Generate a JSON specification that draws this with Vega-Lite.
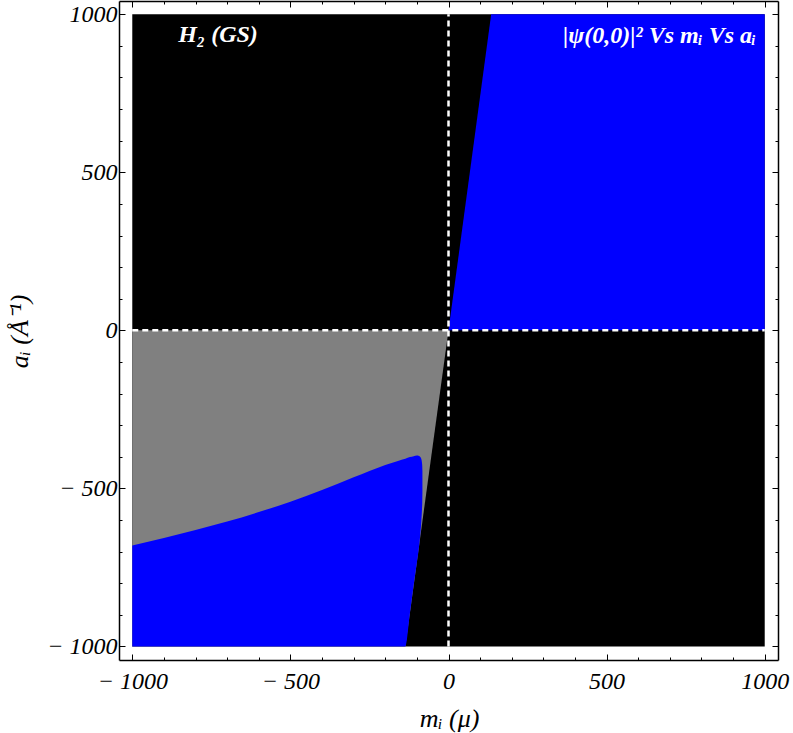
{
  "$schema": "https://vega.github.io/schema/vega-lite/v6.json",
  "autosize": "none",
  "width": 659,
  "height": 659,
  "padding": {"left": 119, "top": 1, "right": 15, "bottom": 73},
  "background": "white",
  "config": {
    "view": {"stroke": null},
    "axis": {
      "domainColor": "black",
      "domainWidth": 1.5,
      "tickColor": "black",
      "tickWidth": 1,
      "grid": false,
      "labelFont": "Liberation Serif",
      "labelFontStyle": "italic",
      "labelFontSize": 24,
      "labelColor": "black",
      "labelOverlap": false,
      "labelFlush": false,
      "labelBound": false,
      "titleFont": "Liberation Serif",
      "titleFontStyle": "italic",
      "titleFontWeight": "normal",
      "titleFontSize": 26,
      "titleColor": "black"
    }
  },
  "datasets": {
    "bg": [{"m": -1000, "m2": 1000, "a": -1000, "a2": 1000}],
    "gray": [
      {"m": -1000, "top": 0, "bot": -1000},
      {"m": -136.6, "top": 0, "bot": -1000},
      {"m": 0, "top": 0, "bot": 0}
    ],
    "blueLow": [
      {"m": -1000, "top": -681, "bot": -1000},
      {"m": -900, "top": -657, "bot": -1000},
      {"m": -800, "top": -632, "bot": -1000},
      {"m": -700, "top": -605, "bot": -1000},
      {"m": -600, "top": -575, "bot": -1000},
      {"m": -500, "top": -542, "bot": -1000},
      {"m": -400, "top": -505, "bot": -1000},
      {"m": -300, "top": -465, "bot": -1000},
      {"m": -250, "top": -445, "bot": -1000},
      {"m": -200, "top": -426, "bot": -1000},
      {"m": -160, "top": -413, "bot": -1000},
      {"m": -136.6, "top": -406, "bot": -1000},
      {"m": -122, "top": -401, "bot": -895},
      {"m": -110, "top": -398, "bot": -805},
      {"m": -100, "top": -396, "bot": -735},
      {"m": -95, "top": -396.5, "bot": -700},
      {"m": -90, "top": -400, "bot": -655},
      {"m": -86, "top": -407, "bot": -605},
      {"m": -84, "top": -418, "bot": -570},
      {"m": -83, "top": -430, "bot": -545},
      {"m": -82.5, "top": -445, "bot": -510}
    ],
    "blueTop": [
      {"m": 0, "top": 0, "bot": 0},
      {"m": 135, "top": 1000, "bot": 0},
      {"m": 1000, "top": 1000, "bot": 0}
    ],
    "vline": [{"m": 0, "a": -1000, "a2": 1000}],
    "hline": [{"a": 0, "m": -1000, "m2": 1000}],
    "labelLeft": [{"m": -729, "a": 911, "label": "H₂ (GS)"}],
    "labelRight": [{"m": 973, "a": 908, "label": "|ψ(0,0)|² Vs mᵢ Vs aᵢ"}]
  },
  "resolve": {"axis": {"x": "independent", "y": "independent"}},
  "layer": [
    {
      "data": {"name": "bg"},
      "mark": {"type": "rect", "color": "#000000"},
      "encoding": {
        "x": {"field": "m", "type": "quantitative",
          "scale": {"domain": [-1042, 1042], "nice": false, "zero": false},
          "axis": {
            "orient": "bottom",
            "values": [-1000,-900,-800,-700,-600,-500,-400,-300,-200,-100,0,100,200,300,400,500,600,700,800,900,1000],
            "tickSize": {"condition": {"test": "datum.value % 500 === 0", "value": -6}, "value": -3},
            "labelPadding": 15,
            "labelExpr": "datum.value % 500 === 0 ? (datum.value < 0 ? '− ' + abs(datum.value) : '' + datum.value) : ''",
            "title": "mᵢ (μ)",
            "titleX": 330,
            "titleY": 66,
            "titleAlign": "center",
            "titleBaseline": "alphabetic"
          }
        },
        "x2": {"field": "m2"},
        "y": {"field": "a", "type": "quantitative",
          "scale": {"domain": [-1043, 1042], "nice": false, "zero": false},
          "axis": {
            "orient": "left",
            "values": [-1000,-900,-800,-700,-600,-500,-400,-300,-200,-100,0,100,200,300,400,500,600,700,800,900,1000],
            "tickSize": {"condition": {"test": "datum.value % 500 === 0", "value": -6}, "value": -3},
            "labelPadding": 8,
            "labelExpr": "datum.value % 500 === 0 ? (datum.value < 0 ? '− ' + abs(datum.value) : '' + datum.value) : ''",
            "title": "aᵢ (Å⁻¹)",
            "titleAngle": 270,
            "titleX": -92,
            "titleY": 330,
            "titleAlign": "center",
            "titleBaseline": "alphabetic"
          }
        },
        "y2": {"field": "a2"}
      }
    },
    {
      "data": {"name": "gray"},
      "mark": {"type": "area", "orient": "vertical", "color": "#808080", "interpolate": "linear"},
      "encoding": {
        "x": {"field": "m", "type": "quantitative",
          "axis": {
            "orient": "top",
            "values": [-1000,-900,-800,-700,-600,-500,-400,-300,-200,-100,0,100,200,300,400,500,600,700,800,900,1000],
            "tickSize": {"condition": {"test": "datum.value % 500 === 0", "value": -6}, "value": -3},
            "labels": false,
            "title": null
          }
        },
        "y": {"field": "top", "type": "quantitative",
          "axis": {
            "orient": "right",
            "values": [-1000,-900,-800,-700,-600,-500,-400,-300,-200,-100,0,100,200,300,400,500,600,700,800,900,1000],
            "tickSize": {"condition": {"test": "datum.value % 500 === 0", "value": -6}, "value": -3},
            "labels": false,
            "title": null
          }
        },
        "y2": {"field": "bot"}
      }
    },
    {
      "data": {"name": "blueLow"},
      "mark": {"type": "area", "orient": "vertical", "color": "#0000ff", "interpolate": "monotone"},
      "encoding": {
        "x": {"field": "m", "type": "quantitative", "axis": null},
        "y": {"field": "top", "type": "quantitative", "axis": null},
        "y2": {"field": "bot"}
      }
    },
    {
      "data": {"name": "blueTop"},
      "mark": {"type": "area", "orient": "vertical", "color": "#0000ff", "interpolate": "linear"},
      "encoding": {
        "x": {"field": "m", "type": "quantitative", "axis": null},
        "y": {"field": "top", "type": "quantitative", "axis": null},
        "y2": {"field": "bot"}
      }
    },
    {
      "data": {"name": "vline"},
      "mark": {"type": "rule", "color": "white", "strokeWidth": 2.5, "strokeDash": [6, 4]},
      "encoding": {
        "x": {"field": "m", "type": "quantitative", "axis": null},
        "y": {"field": "a", "type": "quantitative", "axis": null},
        "y2": {"field": "a2"}
      }
    },
    {
      "data": {"name": "hline"},
      "mark": {"type": "rule", "color": "white", "strokeWidth": 2.5, "strokeDash": [6, 4]},
      "encoding": {
        "x": {"field": "m", "type": "quantitative", "axis": null},
        "x2": {"field": "m2"},
        "y": {"field": "a", "type": "quantitative", "axis": null}
      }
    },
    {
      "data": {"name": "labelLeft"},
      "mark": {"type": "text", "color": "white", "font": "Liberation Serif", "fontStyle": "italic", "fontWeight": "bold", "fontSize": 24, "baseline": "alphabetic", "align": "center"},
      "encoding": {
        "x": {"field": "m", "type": "quantitative", "axis": null},
        "y": {"field": "a", "type": "quantitative", "axis": null},
        "text": {"field": "label"}
      }
    },
    {
      "data": {"name": "labelRight"},
      "mark": {"type": "text", "color": "white", "font": "Liberation Serif", "fontStyle": "italic", "fontWeight": "bold", "fontSize": 24, "baseline": "alphabetic", "align": "right"},
      "encoding": {
        "x": {"field": "m", "type": "quantitative", "axis": null},
        "y": {"field": "a", "type": "quantitative", "axis": null},
        "text": {"field": "label"}
      }
    }
  ]
}
